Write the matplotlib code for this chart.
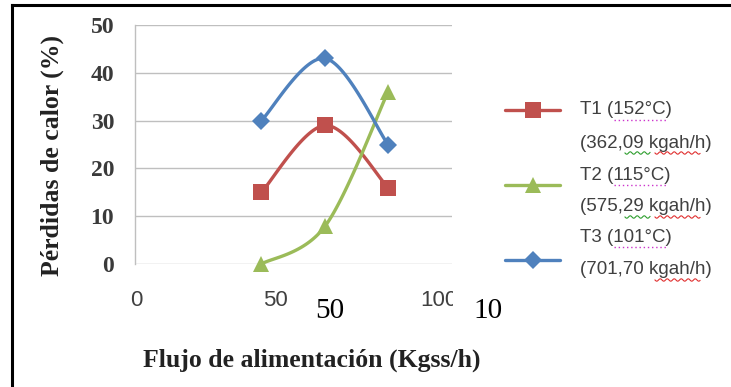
import numpy as np
import matplotlib
matplotlib.use("Agg")
import matplotlib.pyplot as plt
import matplotlib.transforms as mtransforms
from matplotlib.lines import Line2D
from matplotlib.patches import Rectangle

# Feed flow (x) and heat losses (%) for each trial
flujo = [45, 68, 90.5]
perdidas_t1 = [15, 29, 16]
perdidas_t2 = [0, 8, 36]
perdidas_t3 = [30, 43, 25]

series_labels = [("T1 (152°C)", "(362,09 kgah/h)"),
                 ("T2 (115°C)", "(575,29 kgah/h)"),
                 ("T3 (101°C)", "(701,70 kgah/h)")]
y_ticks = [0, 10, 20, 30, 40, 50]
x_ticks = [0, 50, 100]

RED, GREEN, BLUE = "#C0504D", "#9BBB59", "#4F81BD"
W, H = 731, 387


def px(x, y):
    """Pixel position (from top-left) to figure fraction."""
    return np.asarray(x) / W, 1 - np.asarray(y) / H


def smooth(xs, ys, n=40):
    """Smoothed line: cubic Bezier segments with 1/6 tangents."""
    xs = np.asarray(xs, float)
    ys = np.asarray(ys, float)
    P = np.column_stack([xs, ys])
    Pe = np.vstack([P[0], P, P[-1]])
    out = []
    t = np.linspace(0, 1, n)[:, None]
    for i in range(len(P) - 1):
        p0, p3 = P[i], P[i + 1]
        c1 = p0 + (Pe[i + 2] - Pe[i]) / 6
        c2 = p3 - (Pe[i + 3] - Pe[i + 1]) / 6
        seg = ((1 - t) ** 3) * p0 + 3 * ((1 - t) ** 2) * t * c1 + 3 * (1 - t) * t ** 2 * c2 + t ** 3 * p3
        out.append(seg)
    pts = np.vstack(out)
    return pts[:, 0], pts[:, 1]


fig = plt.figure(figsize=(W / 100, H / 100), dpi=100)
fig.patch.set_facecolor("white")

left, top = px(135, 25)
right, bottom = px(452, 264)
ax = fig.add_axes([left, bottom, right - left, top - bottom])
ax.set_xlim(-0.4, 113.5)
ax.set_ylim(0, 50)

ax.set_yticks(y_ticks)
ax.yaxis.grid(True, color="#BFBFBF", linewidth=1.0)
ax.set_axisbelow(True)
for side in ("top", "right", "bottom"):
    ax.spines[side].set_visible(False)
ax.spines["left"].set_color("#BFBFBF")
ax.spines["left"].set_linewidth(1.0)
ax.tick_params(axis="both", length=0)
ax.tick_params(axis="y", pad=15)
ax.tick_params(axis="x", pad=19)
for lab in ax.get_yticklabels():
    lab.set_fontfamily("Liberation Serif")
    lab.set_fontweight("bold")
    lab.set_fontsize(17)
    lab.set_color("#3A3A3A")
ax.set_xticks(x_ticks)
ax.set_xticklabels([str(v) for v in x_ticks], fontfamily="Liberation Sans",
                   fontsize=16, color="#404040")
# the "100" label sits a little to the right
last = ax.get_xticklabels()[-1]
last.set_transform(last.get_transform() +
                   mtransforms.ScaledTranslation(24 / 100, 0, fig.dpi_scale_trans))

for ys, color, marker, ms in [(perdidas_t1, RED, "s", 12),
                              (perdidas_t2, GREEN, "^", 11.5),
                              (perdidas_t3, BLUE, "D", 9.5)]:
    sx, sy = smooth(flujo, ys)
    ax.plot(sx, sy, color=color, linewidth=2.4, solid_capstyle="round", zorder=3)
    ax.plot(flujo, ys, linestyle="none", marker=marker, markersize=ms,
            color=color, markeredgewidth=0, zorder=4, clip_on=False)

# Axis titles
fig.text(*px(52, 155), "Pérdidas de calor (%)", rotation=90, ha="center", va="center",
         fontfamily="Liberation Serif", fontweight="bold", fontsize=18.5, color="#222222")
fig.text(*px(312, 360), "Flujo de alimentación (Kgss/h)", ha="center", va="center",
         fontfamily="Liberation Serif", fontweight="bold", fontsize=18.5, color="#222222")

# White boxes with large serif labels below the axis
for (x0, x1), txt, cx in [((295, 366), "50", 330), ((453, 540), "10", 488)]:
    bx, by = px(x0, 338)
    bw = (x1 - x0) / W
    bh = (338 - 282) / H
    fig.add_artist(Rectangle((bx, by), bw, bh, transform=fig.transFigure,
                             facecolor="white", edgecolor="none", zorder=5))
    fig.text(*px(cx, 311), txt, ha="center", va="center", fontfamily="Liberation Serif",
             fontsize=21, color="black", zorder=6)

# Legend drawn by hand: handles and two-line labels
handle_y = [110, 185, 260]
text_rows = [(110, 143), (175, 207), (237, 270)]
for (l1, l2), color, marker, ms, hy, (y1, y2) in zip(
        series_labels, [RED, GREEN, BLUE], ["s", "^", "D"], [12, 11.5, 9.5],
        handle_y, text_rows):
    xa, ya = px(505, hy)
    xb, _ = px(560, hy)
    fig.add_artist(Line2D([xa, xb], [ya, ya], transform=fig.transFigure, color=color,
                          linewidth=2.4, solid_capstyle="round", zorder=5))
    fig.add_artist(Line2D([(xa + xb) / 2], [ya], transform=fig.transFigure, color=color,
                          marker=marker, markersize=ms, markeredgewidth=0, zorder=6))
    for txt, yy in ((l1, y1), (l2, y2)):
        fig.text(*px(580, yy), txt, ha="left", va="center", fontfamily="Liberation Sans",
                 fontsize=13.5, color="#404040")


def wavy(x0, x1, y, color):
    xs = np.linspace(x0, x1, 60)
    ys = y + 1.2 * np.sin((xs - x0) / 7.0 * 2 * np.pi)
    fx, fy = px(xs, ys)
    fig.add_artist(Line2D(fx, fy, transform=fig.transFigure, color=color, linewidth=0.8, zorder=7))


def dotted(x0, x1, y, color):
    fx, fy = px(np.array([x0, x1]), np.array([y, y]))
    fig.add_artist(Line2D(fx, fy, transform=fig.transFigure, color=color, linewidth=1.0,
                          linestyle=(0, (1, 2)), zorder=7))


for yy in (120, 185, 247):
    dotted(614, 667, yy, "#CC33CC")
for yy in (153, 217):
    wavy(625, 650, yy, "#2E9E2E")
for yy in (153, 217, 280):
    wavy(655, 700, yy, "#E03030")

# Frame lines on the top and left edges
fig.add_artist(Line2D(*zip(px(12, 5), px(W, 5)), transform=fig.transFigure,
                      color="black", linewidth=2.2, zorder=8))
fig.add_artist(Line2D(*zip(px(12, 5), px(12, H)), transform=fig.transFigure,
                      color="black", linewidth=2.2, zorder=8))

fig.savefig("out.png", dpi=100, facecolor="white")
